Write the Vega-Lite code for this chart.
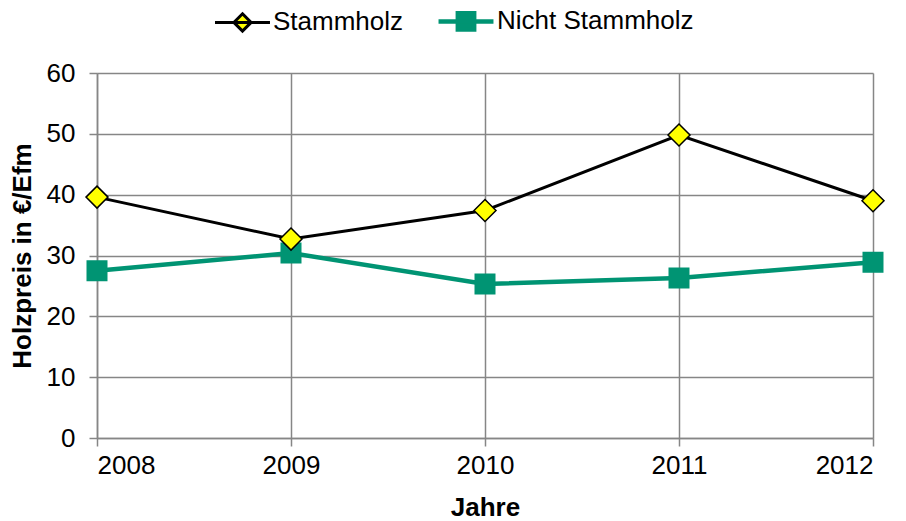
{
  "$schema": "https://vega.github.io/schema/vega-lite/v6.json",
  "width": 776,
  "height": 365,
  "autosize": {"type": "none"},
  "padding": {"left": 97, "top": 73, "right": 33, "bottom": 83},
  "background": "white",
  "data": {
    "values": [
      {"jahr": 2008, "serie": "Stammholz", "preis": 39.6},
      {"jahr": 2009, "serie": "Stammholz", "preis": 32.7},
      {"jahr": 2010, "serie": "Stammholz", "preis": 37.4},
      {"jahr": 2011, "serie": "Stammholz", "preis": 49.8},
      {"jahr": 2012, "serie": "Stammholz", "preis": 39.0},
      {"jahr": 2008, "serie": "Nicht Stammholz", "preis": 27.5},
      {"jahr": 2009, "serie": "Nicht Stammholz", "preis": 30.4},
      {"jahr": 2010, "serie": "Nicht Stammholz", "preis": 25.3},
      {"jahr": 2011, "serie": "Nicht Stammholz", "preis": 26.3},
      {"jahr": 2012, "serie": "Nicht Stammholz", "preis": 28.9}
    ]
  },
  "config": {
    "font": "Liberation Sans",
    "view": {"stroke": null},
    "axis": {
      "gridColor": "#868686",
      "gridWidth": 1.5,
      "gridOpacity": 1,
      "domainColor": "#868686",
      "domainWidth": 1.5,
      "tickColor": "#868686",
      "tickWidth": 1.5,
      "tickSize": 8,
      "labelFont": "Liberation Sans",
      "labelFontSize": 26,
      "labelColor": "#000000",
      "titleFont": "Liberation Sans",
      "titleFontSize": 26,
      "titleFontWeight": "bold",
      "titleColor": "#000000"
    }
  },
  "encoding": {
    "x": {
      "field": "jahr",
      "type": "quantitative",
      "scale": {"domain": [2008, 2012], "nice": false, "zero": false},
      "axis": {"values": [2008, 2009, 2010, 2011, 2012], "format": "d", "title": "Jahre", "labelPadding": 6, "titlePadding": 16}
    },
    "y": {
      "field": "preis",
      "type": "quantitative",
      "scale": {"domain": [0, 60], "nice": false},
      "axis": {"values": [0, 10, 20, 30, 40, 50, 60], "title": "Holzpreis in €/Efm", "labelPadding": 14, "titlePadding": 11}
    }
  },
  "layer": [
    {
      "mark": {"type": "line"},
      "encoding": {
        "stroke": {
          "field": "serie",
          "type": "nominal",
          "scale": {"domain": ["Stammholz", "Nicht Stammholz"], "range": ["#000000", "#009473"]},
          "legend": {
            "title": null,
            "orient": "none",
            "direction": "horizontal",
            "legendX": 128,
            "legendY": -70,
            "symbolSize": 986,
            "symbolStrokeWidth": 3,
            "symbolType": "M-1.75,0H1.75M0,-0.55L0.55,0L0,0.55L-0.55,0Z",
            "labelFontSize": 26,
            "labelFont": "Liberation Sans",
            "labelColor": "#000000",
            "labelLimit": 400,
            "labelOffset": 13,
            "columnPadding": 25,
            "encode": {
              "symbols": {
                "update": {
                  "shape": [{"test": "datum.value === 'Stammholz'", "value": "M-1.75,0H1.75M0,-0.55L0.55,0L0,0.55L-0.55,0Z"}, {"value": "M-1.75,0H1.75M-0.52,-0.52H0.52V0.52H-0.52Z"}],
                  "fill": [{"test": "datum.value === 'Stammholz'", "value": "#FFFF00"}, {"value": "#009473"}],
                  "strokeWidth": {"value": 3},
                  "opacity": {"value": 1}
                }
              }
            }
          }
        },
        "strokeWidth": {
          "field": "serie",
          "type": "nominal",
          "scale": {"domain": ["Stammholz", "Nicht Stammholz"], "range": [3, 4.5]},
          "legend": null
        }
      }
    },
    {
      "transform": [{"filter": "datum.serie === 'Nicht Stammholz'"}],
      "mark": {"type": "point", "shape": "square", "filled": true, "opacity": 1, "size": 380, "fill": "#009473", "stroke": "#009473", "strokeWidth": 1.5}
    },
    {
      "transform": [{"filter": "datum.serie === 'Stammholz'"}],
      "mark": {"type": "point", "shape": "diamond", "filled": true, "opacity": 1, "size": 484, "fill": "#FFFF00", "stroke": "#000000", "strokeWidth": 1.5}
    }
  ]
}
